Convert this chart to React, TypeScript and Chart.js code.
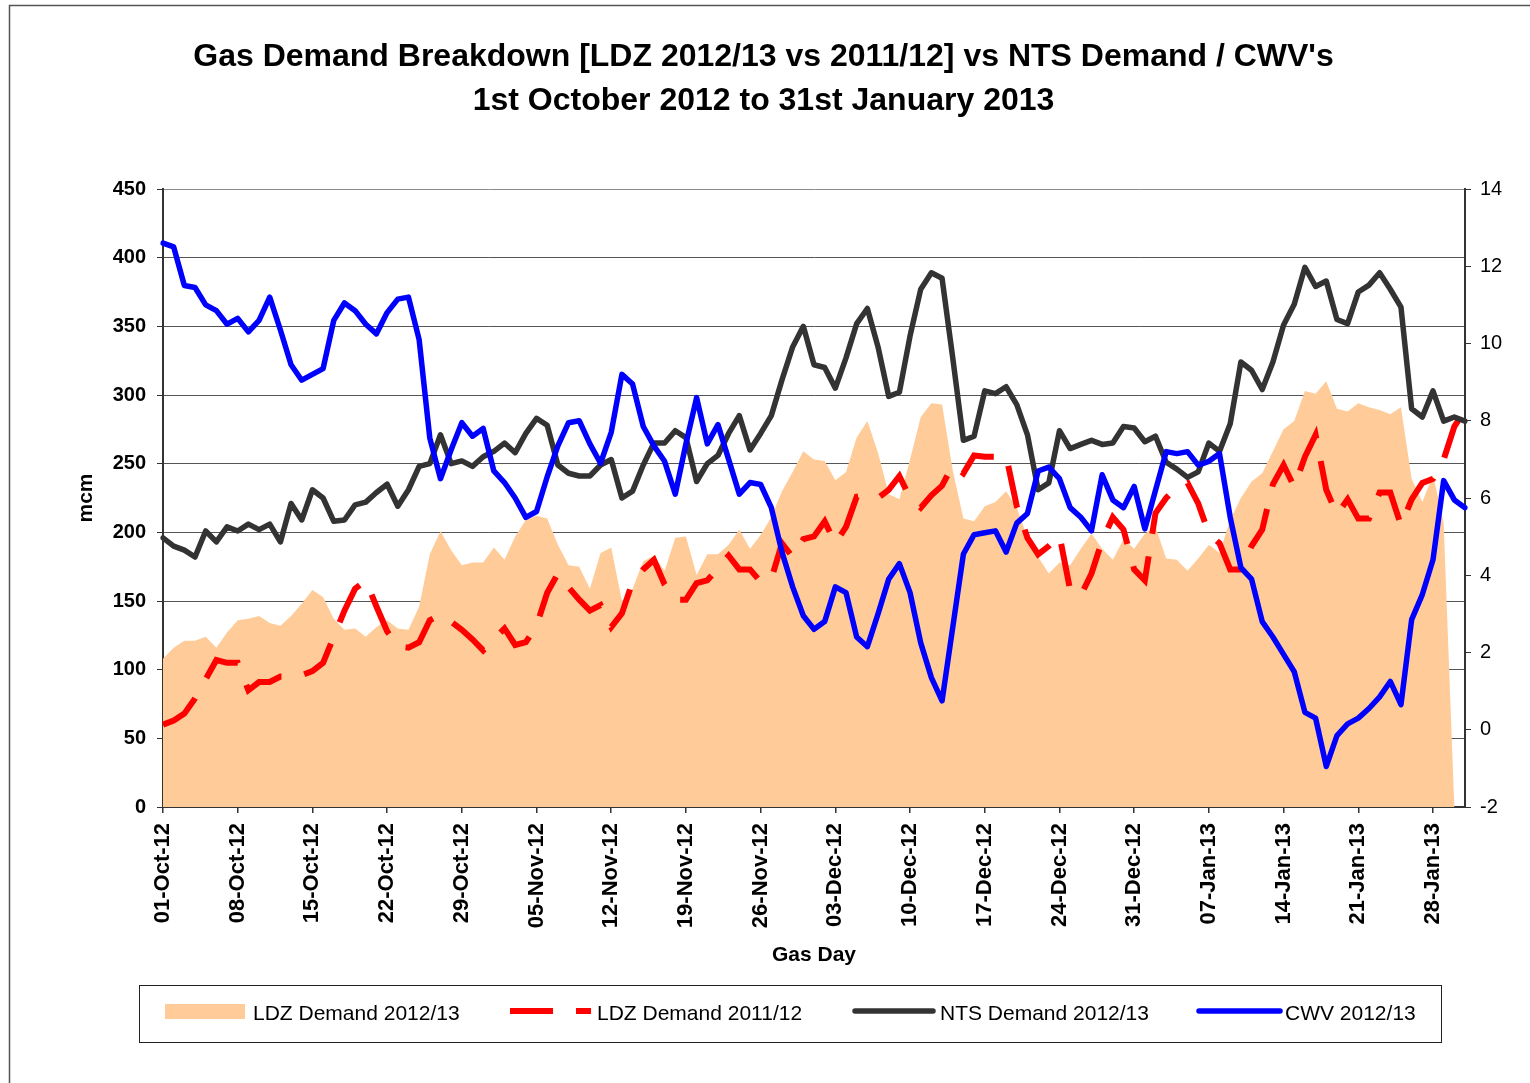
import React, { useEffect, useRef } from 'react';
import { Chart, registerables } from 'chart.js';

Chart.register(...registerables);

const FONT = '"Liberation Sans", Arial, Helvetica, sans-serif';

const TITLE_LINES = [
  "Gas Demand Breakdown [LDZ 2012/13 vs 2011/12] vs NTS Demand / CWV's",
  '1st October 2012 to 31st January 2013',
];
const Y_TITLE = 'mcm';
const X_TITLE = 'Gas Day';
const SERIES_NAMES = ['LDZ Demand 2012/13', 'LDZ Demand 2011/12', 'NTS Demand 2012/13', 'CWV 2012/13'];

// Gas days: 01-Oct-12 .. 31-Jan-13 (123 days)
const MONTHS = ['Jan', 'Feb', 'Mar', 'Apr', 'May', 'Jun', 'Jul', 'Aug', 'Sep', 'Oct', 'Nov', 'Dec'];
const START_MS = Date.UTC(2012, 9, 1);
const GAS_DAYS: string[] = Array.from({ length: 123 }, (_, i) => {
  const d = new Date(START_MS + i * 86400000);
  return `${String(d.getUTCDate()).padStart(2, '0')}-${MONTHS[d.getUTCMonth()]}-${String(d.getUTCFullYear()).slice(2)}`;
});
const LABEL_EVERY = 7;

// LDZ Demand 2012/13 (mcm) - area
const LDZ_1213 = [
  108, 116, 121, 121, 124, 116, 127, 136, 137, 139,
  134, 132, 139, 148, 158, 153, 137, 129, 130, 124,
  131, 136, 130, 129, 146, 184, 201, 187, 176, 178,
  178, 189, 180, 197, 209, 212, 210, 191, 176, 175,
  159, 185, 189, 150, 159, 179, 183, 172, 196, 197,
  169, 184, 184, 191, 202, 188, 198, 211, 230, 244,
  259, 253, 252, 238, 244, 269, 281, 258, 228, 224,
  253, 284, 294, 293, 245, 210, 208, 219, 222, 230,
  218, 196, 182, 170, 178, 176, 188, 199, 188, 180,
  195, 188, 199, 204, 181, 180, 172, 181, 191, 185,
  209, 225, 237, 243, 259, 275, 281, 303, 301, 310,
  290, 288, 294, 291, 289, 286, 291, 239, 222, 242,
  207, 0, 0,
];

// LDZ Demand 2011/12 (mcm) - red dashed
const LDZ_1112 = [
  60, 63, 68, 79, 93, 107, 105, 105, 85, 91,
  91, 95, 95, 96, 99, 105, 124, 143, 159, 165,
  146, 128, 117, 116, 120, 136, 140, 135, 129, 122,
  114, 122, 130, 118, 120, 132, 156, 170, 160, 151,
  143, 147, 131, 141, 164, 173, 180, 162, 151, 151,
  163, 165, 174, 183, 173, 173, 164, 166, 192, 182,
  195, 197, 208, 192, 204, 226, 227, 225, 231, 241,
  225, 218, 227, 234, 249, 243, 256, 255, 255, 256,
  219, 196, 184, 190, 198, 158, 154, 170, 194, 211,
  202, 173, 165, 214, 225, 233, 236, 221, 199, 192,
  173, 173, 190, 202, 235, 249, 233, 255, 271, 231,
  213, 224, 210, 210, 229, 229, 205, 224, 236, 239,
  253, 277, 289,
];

// NTS Demand 2012/13 (mcm) - dark grey
const NTS_1213 = [
  196, 190, 187, 182, 201, 193, 204, 201, 206, 202,
  206, 193, 221, 209, 231, 225, 208, 209, 220, 222,
  229, 235, 219, 231, 248, 250, 271, 250, 252, 248,
  255, 259, 265, 258, 272, 283, 278, 249, 243, 241,
  241, 249, 253, 225, 230, 249, 265, 265, 274, 269,
  237, 250, 256, 272, 285, 260, 272, 285, 311, 335,
  350, 322, 320, 305, 327, 352, 363, 335, 299, 302,
  343, 377, 389, 385, 327, 267, 270, 303, 301, 306,
  293, 271, 231, 236, 274, 261, 264, 267, 264, 265,
  277, 276, 266, 270, 251, 246, 240, 244, 265, 259,
  279, 324, 318, 304, 324, 351, 366, 393, 379, 383,
  355, 352, 375, 380, 389, 377, 364, 290, 284, 303,
  281, 284, 281,
];

// CWV 2012/13 - blue, secondary axis
const CWV_1213 = [
  12.6, 12.5, 11.5, 11.45, 11.0, 10.85, 10.5, 10.65, 10.3, 10.6,
  11.2, 10.35, 9.45, 9.05, 9.2, 9.35, 10.6, 11.05, 10.85, 10.5,
  10.25, 10.8, 11.15, 11.2, 10.1, 7.55, 6.5, 7.25, 7.95, 7.6,
  7.8, 6.7, 6.4, 6.0, 5.5, 5.65, 6.55, 7.35, 7.95, 8.0,
  7.4, 6.9, 7.7, 9.2, 8.95, 7.85, 7.35, 6.95, 6.1, 7.4,
  8.6, 7.4, 7.9, 7.0, 6.1, 6.4, 6.35, 5.75, 4.6, 3.7,
  2.95, 2.6, 2.8, 3.7, 3.55, 2.4, 2.15, 3.0, 3.9, 4.3,
  3.55, 2.25, 1.35, 0.75, 2.65, 4.55, 5.05, 5.1, 5.15, 4.6,
  5.35, 5.6, 6.7, 6.8, 6.5, 5.75, 5.5, 5.15, 6.6, 5.95,
  5.75, 6.3, 5.2, 6.2, 7.2, 7.15, 7.2, 6.85, 6.95, 7.15,
  5.5, 4.2, 3.9, 2.8, 2.4, 1.95, 1.5, 0.45, 0.3, -0.95,
  -0.15, 0.15, 0.3, 0.55, 0.85, 1.25, 0.65, 2.85, 3.5, 4.4,
  6.45, 5.95, 5.75,
];

const Y_LEFT = { min: 0, max: 450, step: 50 };
const Y_RIGHT = { min: -2, max: 14, step: 2 };

const COLORS = {
  area: '#FFCC99',
  red: '#FF0000',
  nts: '#333333',
  cwv: '#0000FF',
};
const RED_DASH = [43, 23];

const W = 1530;
const H = 1083;

const decorPlugin = {
  id: 'decor',
  beforeDraw(chart: any) {
    const ctx = chart.ctx;
    ctx.save();
    ctx.fillStyle = '#ffffff';
    ctx.fillRect(0, 0, chart.width, chart.height);
    ctx.restore();
  },
  afterDraw(chart: any) {
    const ctx = chart.ctx as CanvasRenderingContext2D;
    const area = chart.chartArea;
    ctx.save();
    // outer chart border
    ctx.strokeStyle = '#555555';
    ctx.lineWidth = 1.5;
    ctx.strokeRect(9.5, 5.5, 1600, 1200);

    // title
    ctx.fillStyle = '#000000';
    ctx.textAlign = 'center';
    ctx.textBaseline = 'alphabetic';
    ctx.font = `bold 32px ${FONT}`;
    ctx.fillText(TITLE_LINES[0], 763.5, 66);
    ctx.fillText(TITLE_LINES[1], 763.5, 110);

    // axis titles
    ctx.font = `bold 21px ${FONT}`;
    ctx.textBaseline = 'middle';
    ctx.fillText(X_TITLE, (area.left + area.right) / 2, 955);
    ctx.save();
    ctx.translate(86, (area.top + area.bottom) / 2);
    ctx.rotate(-Math.PI / 2);
    ctx.fillText(Y_TITLE, 0, 0);
    ctx.restore();

    // legend box
    ctx.strokeStyle = '#222222';
    ctx.lineWidth = 1;
    ctx.strokeRect(139.5, 985.5, 1302, 57);

    const ly = 1011;
    // area swatch
    ctx.fillStyle = COLORS.area;
    ctx.fillRect(165, 1004, 80, 15);
    // red dashed
    ctx.strokeStyle = COLORS.red;
    ctx.lineWidth = 6;
    ctx.lineCap = 'butt';
    ctx.setLineDash(RED_DASH);
    ctx.beginPath();
    ctx.moveTo(510, ly);
    ctx.lineTo(591, ly);
    ctx.stroke();
    ctx.setLineDash([]);
    // NTS
    ctx.lineCap = 'round';
    ctx.lineWidth = 5.5;
    ctx.strokeStyle = COLORS.nts;
    ctx.beginPath();
    ctx.moveTo(855, ly);
    ctx.lineTo(933, ly);
    ctx.stroke();
    // CWV
    ctx.strokeStyle = COLORS.cwv;
    ctx.beginPath();
    ctx.moveTo(1199, ly);
    ctx.lineTo(1280, ly);
    ctx.stroke();

    ctx.fillStyle = '#000000';
    ctx.font = `21px ${FONT}`;
    ctx.textAlign = 'left';
    ctx.textBaseline = 'alphabetic';
    const lb = 1020;
    ctx.fillText(SERIES_NAMES[0], 253, lb);
    ctx.fillText(SERIES_NAMES[1], 597, lb);
    ctx.fillText(SERIES_NAMES[2], 940, lb);
    ctx.fillText(SERIES_NAMES[3], 1285, lb);
    ctx.restore();
  },
};

export default function App() {
  const ref = useRef<HTMLCanvasElement | null>(null);

  useEffect(() => {
    if (!ref.current) return;
    const chart = new Chart(ref.current, {
      type: 'line',
      data: {
        labels: GAS_DAYS,
        datasets: [
          {
            label: SERIES_NAMES[0],
            data: LDZ_1213,
            yAxisID: 'y',
            fill: 'origin',
            backgroundColor: COLORS.area,
            borderColor: 'rgba(0,0,0,0)',
            borderWidth: 0,
            pointRadius: 0,
            tension: 0,
            order: 4,
          },
          {
            label: SERIES_NAMES[1],
            data: LDZ_1112,
            yAxisID: 'y',
            fill: false,
            borderColor: COLORS.red,
            borderWidth: 6,
            borderDash: RED_DASH,
            borderCapStyle: 'butt',
            borderJoinStyle: 'miter',
            pointRadius: 0,
            tension: 0,
            order: 3,
          },
          {
            label: SERIES_NAMES[2],
            data: NTS_1213,
            yAxisID: 'y',
            fill: false,
            borderColor: COLORS.nts,
            borderWidth: 5.5,
            borderCapStyle: 'round',
            borderJoinStyle: 'round',
            pointRadius: 0,
            tension: 0,
            order: 2,
          },
          {
            label: SERIES_NAMES[3],
            data: CWV_1213,
            yAxisID: 'y1',
            fill: false,
            borderColor: COLORS.cwv,
            borderWidth: 5.5,
            borderCapStyle: 'round',
            borderJoinStyle: 'round',
            pointRadius: 0,
            tension: 0,
            order: 1,
          },
        ] as any,
      },
      options: {
        responsive: false,
        animation: false,
        devicePixelRatio: 1,
        layout: { padding: { top: 189, left: 63, right: 5, bottom: 146 } },
        plugins: {
          legend: { display: false },
          title: { display: false },
          tooltip: { enabled: false },
        },
        events: [],
        scales: {
          x: {
            type: 'category',
            offset: false,
            grid: {
              display: true,
              drawOnChartArea: false,
              drawTicks: true,
              tickLength: 6,
              lineWidth: 1.5,
              tickColor: (c: any) => (c.index % LABEL_EVERY === 0 ? '#333333' : 'rgba(0,0,0,0)'),
            },
            border: { display: true, color: '#333333', width: 2 },
            ticks: {
              autoSkip: false,
              maxRotation: 90,
              minRotation: 90,
              padding: 10,
              color: '#000000',
              font: { family: FONT, size: 22, weight: 'bold' },
              callback: (_v: any, i: number) => (i % LABEL_EVERY === 0 ? GAS_DAYS[i] : ''),
            },
            afterFit: (s: any) => {
              s.height = 130;
            },
          },
          y: {
            position: 'left',
            min: Y_LEFT.min,
            max: Y_LEFT.max,
            ticks: {
              stepSize: Y_LEFT.step,
              padding: 11,
              color: '#000000',
              font: { family: FONT, size: 20, weight: 'bold' },
            },
            grid: {
              color: (c: any) => (c.tick && c.tick.value === Y_LEFT.max ? '#8a8a8a' : '#555555'),
              lineWidth: 1,
              tickLength: 6,
              tickColor: '#333333',
            },
            border: { display: true, color: '#333333', width: 2 },
            afterFit: (s: any) => {
              s.width = 100;
            },
          },
          y1: {
            position: 'right',
            min: Y_RIGHT.min,
            max: Y_RIGHT.max,
            ticks: {
              stepSize: Y_RIGHT.step,
              padding: 9,
              color: '#000000',
              font: { family: FONT, size: 20 },
            },
            grid: {
              drawOnChartArea: false,
              tickLength: 6,
              tickColor: '#333333',
            },
            border: { display: true, color: '#333333', width: 2 },
            afterFit: (s: any) => {
              s.width = 60;
            },
          },
        },
      } as any,
      plugins: [decorPlugin],
    });
    return () => chart.destroy();
  }, []);

  return (
    <div style={{ position: 'absolute', left: 0, top: 0, width: W, height: H, background: '#fff' }}>
      <canvas ref={ref} width={W} height={H} style={{ display: 'block', width: W, height: H }} />
    </div>
  );
}
